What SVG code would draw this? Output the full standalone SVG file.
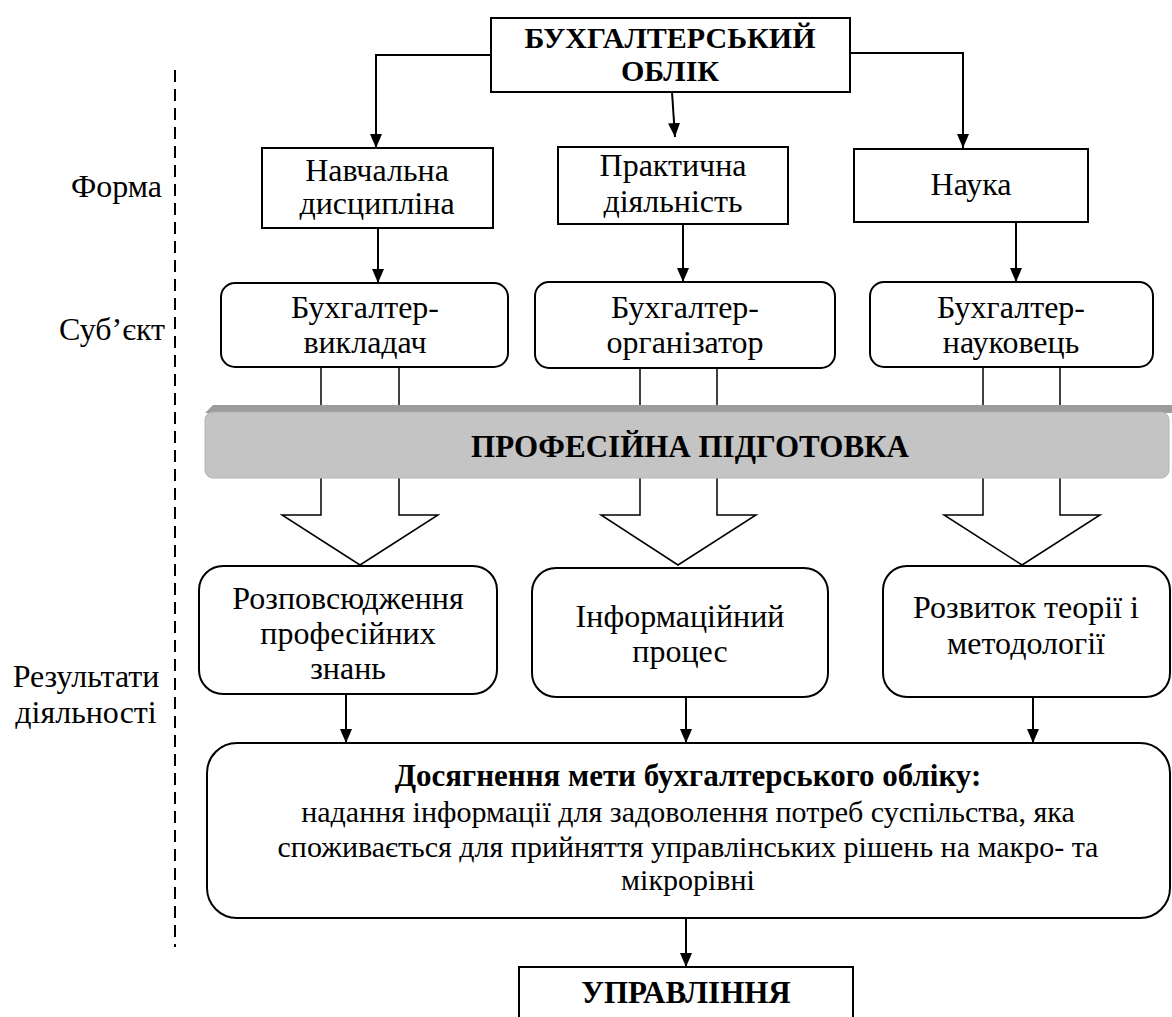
<svg xmlns="http://www.w3.org/2000/svg" width="1172" height="1017" viewBox="0 0 1172 1017">
<style>
text{font-family:"Liberation Serif","Times New Roman",serif;font-size:32px;fill:#000}
.c{text-anchor:middle}
.r{text-anchor:end}
.b{font-weight:bold;font-size:31px}
.m{font-size:30px}
.box{fill:#fff;stroke:#000;stroke-width:2}
.ln{fill:none;stroke:#000;stroke-width:2}
.thin{fill:none;stroke:#000;stroke-width:1.5}
.blk{fill:#fff;stroke:#000;stroke-width:1.5}
</style>
<defs>
<marker id="ah" viewBox="0 0 14 12" refX="14" refY="6" markerWidth="14" markerHeight="12" markerUnits="userSpaceOnUse" orient="auto">
<path d="M0,0 L14,6 L0,12 z" fill="#000"/>
</marker>
</defs>
<rect width="1172" height="1017" fill="#fff"/>

<g id="axis">
<line x1="175" y1="70" x2="175" y2="947" stroke="#000" stroke-width="2" stroke-dasharray="12,7"/>
<text class="r" x="162" y="197">Форма</text>
<text class="r" x="165" y="340">Суб’єкт</text>
<text class="c" x="86" y="687">Результати</text>
<text class="c" x="86" y="723">діяльності</text>
</g>

<g id="connectors">
<polyline class="ln" points="491,55 376,55 376,148" marker-end="url(#ah)"/>
<line class="ln" x1="672" y1="92" x2="675" y2="137" marker-end="url(#ah)"/>
<polyline class="ln" points="850,53 963,53 963,148" marker-end="url(#ah)"/>
<line class="ln" x1="378" y1="228" x2="378" y2="283" marker-end="url(#ah)"/>
<line class="ln" x1="683" y1="224" x2="683" y2="282" marker-end="url(#ah)"/>
<line class="ln" x1="1016" y1="222" x2="1016" y2="282" marker-end="url(#ah)"/>
<line class="thin" x1="321" y1="367" x2="321" y2="406"/>
<line class="thin" x1="399" y1="367" x2="399" y2="406"/>
<line class="thin" x1="640" y1="368" x2="640" y2="406"/>
<line class="thin" x1="717" y1="368" x2="717" y2="406"/>
<line class="thin" x1="983" y1="367" x2="983" y2="406"/>
<line class="thin" x1="1060" y1="367" x2="1060" y2="406"/>
<path class="blk" d="M321,478 V515 H282 L360,565 L438,515 H399 V478"/>
<path class="blk" d="M640,478 V515 H601 L678,565 L756,515 H717 V478"/>
<path class="blk" d="M983,478 V515 H944 L1022,565 L1100,515 H1060 V478"/>
<line class="ln" x1="346" y1="694" x2="346" y2="743" marker-end="url(#ah)"/>
<line class="ln" x1="686" y1="697" x2="686" y2="743" marker-end="url(#ah)"/>
<line class="ln" x1="1033" y1="697" x2="1033" y2="743" marker-end="url(#ah)"/>
<line class="ln" x1="686" y1="918" x2="686" y2="967" marker-end="url(#ah)"/>
</g>

<g id="n-oblik">
<rect class="box" x="491" y="18" width="359" height="74"/>
<text class="c b" x="670" y="48" style="font-size:30px">БУХГАЛТЕРСЬКИЙ</text>
<text class="c b" x="670" y="81" style="font-size:30px">ОБЛІК</text>
</g>

<g id="n-navch">
<rect class="box" x="262" y="148" width="231" height="80"/>
<text class="c" x="377" y="181">Навчальна</text>
<text class="c" x="377" y="214">дисципліна</text>
</g>
<g id="n-prakt">
<rect class="box" x="558" y="147" width="230" height="77"/>
<text class="c" x="673" y="176">Практична</text>
<text class="c" x="673" y="212">діяльність</text>
</g>
<g id="n-nauka">
<rect class="box" x="854" y="149" width="234" height="73"/>
<text class="c" x="971" y="195">Наука</text>
</g>

<g id="n-vykl">
<rect class="box" x="221" y="283" width="287" height="84" rx="14"/>
<text class="c" x="365" y="318">Бухгалтер-</text>
<text class="c" x="365" y="353">викладач</text>
</g>
<g id="n-org">
<rect class="box" x="535" y="282" width="300" height="86" rx="14"/>
<text class="c" x="685" y="318">Бухгалтер-</text>
<text class="c" x="685" y="353">організатор</text>
</g>
<g id="n-nauk">
<rect class="box" x="870" y="282" width="283" height="85" rx="14"/>
<text class="c" x="1011" y="318">Бухгалтер-</text>
<text class="c" x="1011" y="353">науковець</text>
</g>

<g id="n-pidg">
<polygon points="213,405 1172,405 1172,413 205,413" fill="#9c9c9c"/>
<rect x="205" y="412" width="964" height="66" rx="8" fill="#c4c4c4" stroke="#b4b4b4" stroke-width="1"/>
<text class="c b" x="690" y="457">ПРОФЕСІЙНА ПІДГОТОВКА</text>
</g>

<g id="n-rozp">
<rect class="box" x="199" y="566" width="298" height="128" rx="24"/>
<text class="c" x="348" y="609">Розповсюдження</text>
<text class="c" x="348" y="644">професійних</text>
<text class="c" x="348" y="679">знань</text>
</g>
<g id="n-inf">
<rect class="box" x="532" y="568" width="296" height="129" rx="24"/>
<text class="c" x="680" y="627">Інформаційний</text>
<text class="c" x="680" y="662">процес</text>
</g>
<g id="n-rozv">
<rect class="box" x="883" y="566" width="287" height="131" rx="24"/>
<text class="c" x="1026" y="618">Розвиток теорії і</text>
<text class="c" x="1026" y="654">методології</text>
</g>

<g id="n-meta">
<rect class="box" x="207" y="743" width="963" height="175" rx="30"/>
<text class="c b" x="688" y="786">Досягнення мети бухгалтерського обліку:</text>
<text class="c m" x="688" y="822">надання інформації для задоволення потреб суспільства, яка</text>
<text class="c m" x="688" y="857">споживається для прийняття управлінських рішень на макро- та</text>
<text class="c m" x="688" y="890">мікрорівні</text>
</g>

<g id="n-upr">
<rect class="box" x="519" y="967" width="334" height="70"/>
<text class="c b" x="686" y="1003">УПРАВЛІННЯ</text>
</g>
</svg>
